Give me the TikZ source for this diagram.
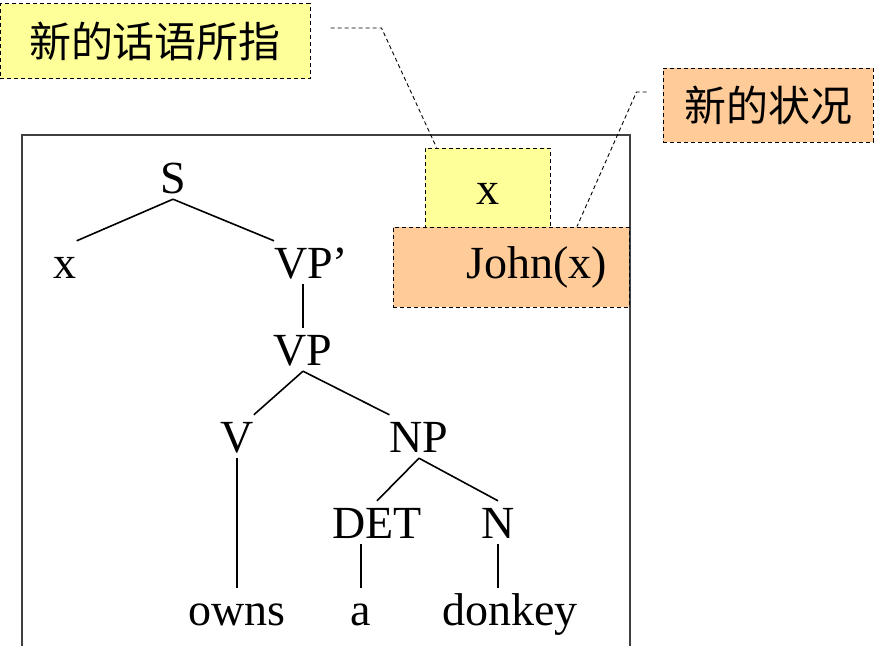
\documentclass[tikz,border=0pt]{standalone}
\usepackage{fontspec}
\setmainfont{Liberation Serif}
\newfontfamily\timesfont{Liberation Serif}
\newfontfamily\cjkfont{Noto Sans CJK SC}
\usepackage{xcolor}
\usetikzlibrary{positioning}

\definecolor{noteyellow}{HTML}{FFFF99}
\definecolor{noteorange}{HTML}{FFCC99}
\definecolor{framegray}{HTML}{404040}
\newcommand{\treefont}{\timesfont\fontsize{46}{50}\selectfont}
\newcommand{\notefont}{\cjkfont\fontsize{42}{46}\selectfont}

\begin{document}
\begin{tikzpicture}[
    x=1pt, y=-1pt,
    tnode/.style={font=\treefont, inner xsep=0pt, inner ysep=6pt, text height=31pt, text depth=0pt, anchor=base},
    notebox/.style={draw, dash pattern=on 4pt off 3pt, line width=1pt, fill=#1, inner sep=0pt},
    leader/.style={draw, dash pattern=on 4pt off 3pt, line width=0.9pt},
    edge/.style={line width=1.6pt},
]
\useasboundingbox (0,0) rectangle (879,646);

% box of the discourse representation
\draw[framegray, line width=1.5pt] (22,646) |- (630,135) -- (630,646);

% tree
\node[tnode] (S) at (173,193) {S};
\node[tnode] (x) at (65,278) {x};
\node[tnode, anchor=base west] (VP1) at (274,278) {VP’};
\node[tnode] (VP) at (303,365) {VP};
\node[tnode] (V) at (237,452) {V};
\node[tnode] (NP) at (419,452) {NP};
\node[tnode] (DET) at (377,538) {DET};
\node[tnode] (N) at (498,538) {N};
\node[tnode] (owns) at (237,625) {owns};
\node[tnode] (a) at (361,625) {a};
\node[tnode] (donkey) at (510,625) {donkey};

\foreach \a/\b in {S.south/x.north east, S.south/VP1.north west, VP.south/V.north east, VP.south/NP.north west, NP.south/DET.north, NP.south/N.north, V.south/owns.north} {
    \draw[edge] (\a) -- (\b);
}
\draw[edge] (VP1.south -| VP.north) -- (VP.north);
\draw[edge] (DET.south -| a.north) -- (a.north);
\draw[edge] (N.south) -- (N.south |- donkey.north);

% referents and conditions
\node[notebox=noteyellow, minimum width=125pt, minimum height=79pt, text height=33pt, text depth=0pt, font=\treefont] (xbox) at (487.5,187.5) {x};
\node[notebox=noteorange, minimum height=80pt, inner xsep=22pt, text width=192pt, align=right, font=\treefont] (john) at (511,267) {John(x)};

% notes
\node[notebox=noteyellow, minimum width=310pt, minimum height=75pt, font=\notefont] (newref) at (155,41) {新的话语所指};
\node[notebox=noteorange, minimum width=210pt, minimum height=74pt, font=\notefont] (newcond) at (768,105) {新的状况};

\draw[leader] ([xshift=20pt, yshift=13pt]newref.east) -- ++(51,0) -- ([xshift=12pt]xbox.north west);
\draw[leader] ([xshift=-16pt, yshift=13pt]newcond.west) -- ++(-10,0) -- ([xshift=66pt]john.north);

\end{tikzpicture}
\end{document}
